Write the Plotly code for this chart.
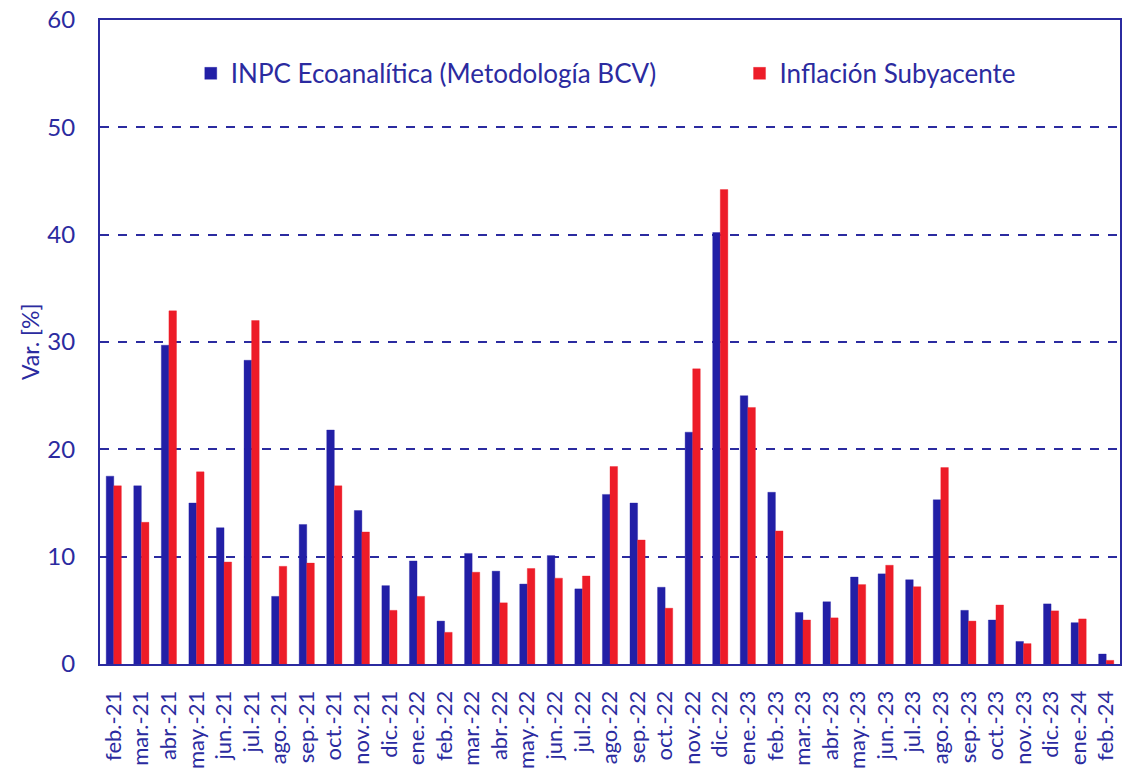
import plotly.graph_objects as go

categories = ["feb.-21","mar.-21","abr.-21","may.-21","jun.-21","jul.-21","ago.-21","sep.-21","oct.-21","nov.-21","dic.-21",
              "ene.-22","feb.-22","mar.-22","abr.-22","may.-22","jun.-22","jul.-22","ago.-22","sep.-22","oct.-22","nov.-22","dic.-22",
              "ene.-23","feb.-23","mar.-23","abr.-23","may.-23","jun.-23","jul.-23","ago.-23","sep.-23","oct.-23","nov.-23","dic.-23",
              "ene.-24","feb.-24"]

inpc = [17.5, 16.6, 29.7, 15.0, 12.7, 28.3, 6.3, 13.0, 21.8, 14.3, 7.3,
        9.6, 4.0, 10.3, 8.65, 7.45, 10.1, 7.0, 15.8, 15.0, 7.15, 21.6, 40.2,
        25.0, 16.0, 4.8, 5.8, 8.1, 8.4, 7.85, 15.3, 5.0, 4.1, 2.1, 5.6,
        3.85, 0.93]

subyacente = [16.6, 13.2, 32.9, 17.9, 9.5, 32.0, 9.1, 9.4, 16.6, 12.3, 5.0,
              6.3, 2.95, 8.55, 5.7, 8.9, 8.0, 8.2, 18.4, 11.55, 5.2, 27.5, 44.2,
              23.9, 12.4, 4.1, 4.3, 7.4, 9.2, 7.2, 18.3, 4.0, 5.5, 1.9, 4.95,
              4.2, 0.34]

y_ticks = [0, 10, 20, 30, 40, 50, 60]
y_title = "Var. [%]"

BLUE = "#221FA6"
RED = "#ED1C28"
TXT = "#2B2BA0"
FONT = "Lato"

fig = go.Figure()
fig.add_trace(go.Bar(x=categories, y=inpc, name="INPC Ecoanalítica (Metodología BCV)",
                     legend="legend",
                     marker=dict(color=BLUE, line=dict(color="rgba(34,31,166,0.35)", width=1))))
fig.add_trace(go.Bar(x=categories, y=subyacente, name="Inflación Subyacente",
                     legend="legend2",
                     marker=dict(color=RED, line=dict(color="rgba(237,28,40,0.35)", width=1))))

leg_common = dict(orientation="h", yanchor="middle", xanchor="left", itemwidth=30,
                  font=dict(family=FONT, size=26, color=TXT), bgcolor="rgba(0,0,0,0)")

fig.update_layout(
    width=1131, height=770,
    margin=dict(l=100, r=11, t=20, b=106),
    paper_bgcolor="white", plot_bgcolor="white",
    barmode="group", bargap=0.45, bargroupgap=0.0,
    font=dict(family=FONT, color=TXT, size=22),
    showlegend=True,
    legend=dict(x=0.089, y=0.917, **leg_common),
    legend2=dict(x=0.627, y=0.917, **leg_common),
    annotations=[dict(text=y_title, xref="paper", yref="paper", x=-0.0686, y=0.5,
                      xanchor="center", yanchor="middle", textangle=-90, showarrow=False,
                      font=dict(family=FONT, size=23, color=TXT))],
)

fig.update_xaxes(
    type="category", tickangle=-90, tickfont=dict(size=22, color=TXT),
    tickmode="array", tickvals=categories, ticktext=categories,
    showline=True, linecolor=TXT, linewidth=2, mirror=True,
    ticks="", showgrid=False, ticklabelstandoff=16, automargin=False,
)
fig.update_yaxes(
    range=[0, 60], tickvals=y_ticks, ticktext=[str(v) for v in y_ticks],
    tickfont=dict(size=24, color=TXT),
    showline=True, linecolor=TXT, linewidth=2, mirror=True,
    showgrid=True, gridcolor=TXT, griddash="dash", gridwidth=1.5,
    zeroline=False, ticks="", ticklabelstandoff=18, automargin=False,
)

fig.write_html("out.html", config={"displayModeBar": False},
               post_script="document.body.style.margin='0';")
